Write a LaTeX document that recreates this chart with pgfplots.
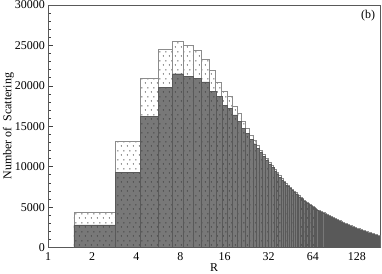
\documentclass[border={3bp 2bp 1.6bp 0bp},12pt]{standalone}
\usepackage{fontspec}
\setmainfont{Liberation Serif}
\usepackage{pgfplots}
\usepackage{pgfplotstable}
\pgfplotsset{compat=1.18}
\usetikzlibrary{patterns.meta}
\tikzdeclarepattern{
  name=sdots, type=uncolored,
  bottom left={(0bp,0bp)}, top right={(6bp,9bp)}, tile size={(6bp,9bp)},
  code={\pgfpathcircle{\pgfpoint{1.5bp}{2.25bp}}{0.62bp}\pgfpathcircle{\pgfpoint{4.5bp}{6.75bp}}{0.62bp}\pgfusepath{fill}}
}
\pgfplotstableread{
x T G
1.50 4400 2800
2.88 13200 9300
4.26 20900 16200
5.64 24500 19800
7.02 25500 21500
8.40 25000 21200
9.78 24400 20900
11.16 23300 20500
12.54 21900 19300
13.92 20500 18700
15.30 19300 17600
16.68 18700 17200
18.06 17500 16400
19.44 16600 15600
20.82 15600 14750
22.20 14750 14100
23.58 13900 13400
24.96 13300 12850
26.34 12700 12300
27.72 12100 11740
29.10 11600 11280
30.48 11100 10810
31.86 10600 10340
33.24 10150 9910
34.62 9700 9480
36.00 9300 9100
37.38 8900 8710
38.76 8550 8380
40.14 8200 8040
41.52 7900 7750
42.90 7690 7560
44.28 7470 7340
45.66 7240 7110
47.04 7020 6890
48.42 6790 6660
49.80 6590 6460
51.18 6420 6290
52.56 6240 6110
53.94 6070 5940
55.32 5900 5770
56.70 5730 5600
58.08 5580 5450
59.46 5460 5330
60.84 5330 5200
62.22 5210 5080
63.60 5080 4950
64.98 4960 4830
66.36 4830 4700
67.74 4730 4600
69.12 4660 4530
70.50 4590 4460
71.88 4520 4390
73.26 4450 4320
74.64 4380 4250
76.02 4310 4180
77.40 4250 4120
78.78 4180 4050
80.16 4110 3980
81.54 4050 3920
82.92 3980 3850
84.30 3920 3790
85.68 3860 3730
87.06 3790 3660
88.44 3730 3600
89.82 3660 3530
91.20 3600 3470
92.58 3540 3410
93.96 3490 3360
95.34 3440 3310
96.72 3390 3260
98.10 3330 3200
99.48 3280 3150
100.86 3230 3100
102.24 3180 3050
103.62 3130 3000
105.00 3070 2940
106.38 3020 2890
107.76 2970 2840
109.14 2930 2800
110.52 2890 2760
111.90 2860 2730
113.28 2820 2690
114.66 2780 2650
116.04 2750 2620
117.42 2710 2580
118.80 2670 2540
120.18 2640 2510
121.56 2600 2470
122.94 2560 2430
124.32 2530 2400
125.70 2490 2360
127.08 2450 2320
128.46 2430 2300
129.84 2400 2270
131.22 2370 2240
132.60 2340 2210
133.98 2310 2180
135.36 2280 2150
136.74 2250 2120
138.12 2220 2090
139.50 2190 2060
140.88 2160 2030
142.26 2130 2000
143.64 2100 1970
145.02 2070 1940
146.40 2040 1910
147.78 2010 1880
149.16 1990 1860
150.54 1970 1840
151.92 1950 1820
153.30 1930 1800
154.68 1910 1780
156.06 1890 1760
157.44 1870 1740
158.82 1840 1710
160.20 1820 1690
161.58 1800 1670
162.96 1780 1650
164.34 1760 1630
165.72 1740 1610
167.10 1720 1590
168.48 1700 1570
169.86 1680 1550
171.24 1660 1530
172.62 1640 1510
174.00 1620 1490
175.38 1600 1470
176.76 1580 1450
178.14 1560 1430
179.52 1540 1410
180.90 1520 1390
182.28 1500 1370
183.66 1480 1350
185.04 1480 1350
}\datatable
\definecolor{bargray}{RGB}{120,120,120}
\begin{document}
\begin{tikzpicture}
\begin{axis}[
  scale only axis,
  width=332bp, height=242.5bp,
  xmode=log, log basis x=2,
  xmin=1, xmax=184,
  ymin=0, ymax=30000,
  xtick={1,2,4,8,16,32,64,128},
  xticklabels={1,2,4,8,16,32,64,128},
  ytick={0,5000,10000,15000,20000,25000,30000},
  yticklabels={0,5000,10000,15000,20000,25000,30000},
  /pgf/number format/assume math mode=true,
  minor y tick num=4,
  tick pos=left,
  tick align=inside,
  major tick length=5bp,
  minor tick length=3bp,
  x tick label as interval=false,
  axis line style={draw=black!65, line width=0.8pt},
  every tick/.style={black!75, line width=0.6pt},
  yticklabel style={inner sep=1bp, xshift=-2bp, text height=8bp, text depth=0bp},
  xticklabel style={inner sep=1bp, yshift=-3.5bp, text height=8bp, text depth=0bp},
  scaled y ticks=false,
  xlabel={R},
  ylabel={Number of\enspace Scattering},
  xlabel style={at={(axis description cs:0.5,0)}, anchor=north, yshift=-15.5bp, inner sep=0bp},
  ylabel style={at={(axis description cs:-0.119,0.5)}, anchor=center, inner sep=0bp},
  clip=true,
]
\addplot[ybar interval, fill=white, draw=black!45, line width=0.35pt,
  postaction={pattern=sdots, pattern color=black}]
  table[x=x, y=T] {\datatable};
\addplot[ybar interval, fill=bargray, draw=black!65, line width=0.2pt,
  postaction={pattern=sdots, pattern color=black!85}]
  table[x=x, y=G] {\datatable};
\node[anchor=center] at (rel axis cs:0.964,0.955) {(b)};
\end{axis}
\end{tikzpicture}
\end{document}
